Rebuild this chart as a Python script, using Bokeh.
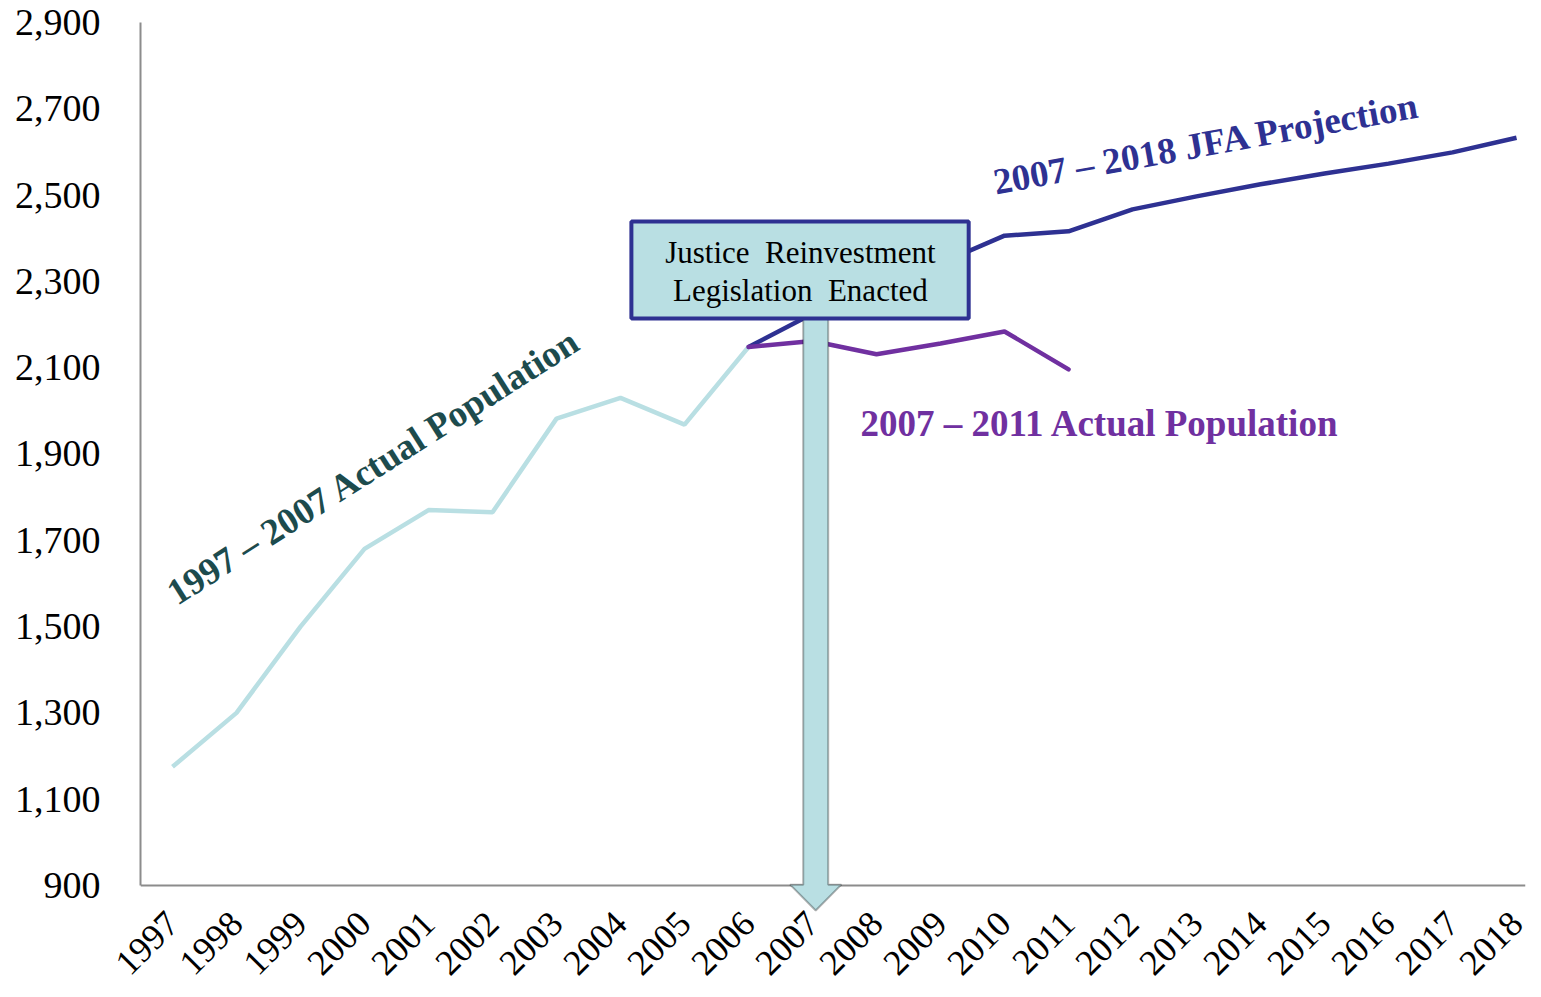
from bokeh.plotting import figure
from bokeh.models import (Range1d, FixedTicker, NumeralTickFormatter, Label,
                          BoxAnnotation, PolyAnnotation)
from bokeh.embed import file_html
from bokeh.resources import INLINE

# ---- data ----
years = list(range(1997, 2019))
actual_years = list(range(1997, 2007))
actual_pop = [1175, 1300, 1500, 1680, 1770, 1765, 1982, 2030, 1968, 2148]
proj_years = list(range(2006, 2019))
proj_pop = [2148, 2225, 2285, 2342, 2406, 2416, 2467, 2497, 2525, 2550, 2573, 2599, 2633]
recent_years = list(range(2006, 2012))
recent_pop = [2148, 2162, 2131, 2156, 2184, 2096]
y_ticks = list(range(900, 3000, 200))

SERIF = "Liberation Serif"
LIGHT = "#b9dfe3"
DARK = "#2e3192"
PURPLE = "#7030a0"
TEAL = "#1d4b4d"
AXIS = "#8c8c8c"

X0, X1 = 1996.5, 2018.14
Y0, Y1 = 837.4, 2900

p = figure(width=1533, height=989, output_backend="svg", toolbar_location=None,
           x_range=Range1d(X0, X1), y_range=Range1d(Y0, Y1),
           min_border_left=140, min_border_right=8, min_border_top=22,
           min_border_bottom=77)
p.outline_line_color = None
p.grid.visible = False

# axes
p.xaxis.ticker = FixedTicker(ticks=years)
p.xaxis.major_label_overrides = {y: str(y) for y in years}
p.xaxis.major_label_orientation = 0.785398
p.yaxis.ticker = FixedTicker(ticks=y_ticks)
p.yaxis.formatter = NumeralTickFormatter(format="0,0")
p.yaxis.bounds = (900, 2900)
for ax in (p.xaxis, p.yaxis):
    ax.major_tick_line_color = None
    ax.minor_tick_line_color = None
    ax.major_tick_out = 0
    ax.major_tick_in = 0
    ax.minor_tick_out = 0
    ax.minor_tick_in = 0
    ax.major_label_text_font = SERIF
    ax.major_label_text_color = "black"
p.yaxis.axis_line_color = AXIS
p.yaxis.axis_line_width = 2
p.xaxis.axis_line_color = None
p.yaxis.major_label_text_font_size = "38px"
p.yaxis.major_label_standoff = 40
p.xaxis.major_label_text_font_size = "36px"
p.xaxis.major_label_standoff = 5

# visible category axis line at 900
p.segment(x0=[X0], y0=[900], x1=[X1], y1=[900], line_color=AXIS, line_width=2)

# lines
p.line(actual_years, actual_pop, line_color=LIGHT, line_width=4.5)
p.line(proj_years, proj_pop, line_color=DARK, line_width=4.5)
p.line(recent_years, recent_pop, line_color=PURPLE, line_width=4.5, line_cap="round")

# arrow and box
cx = 2007.05
p.add_layout(PolyAnnotation(
    xs=[cx - 0.195, cx + 0.195, cx + 0.195, cx + 0.4, cx, cx - 0.4, cx - 0.195],
    ys=[2214, 2214, 902, 902, 842, 902, 902],
    fill_color=LIGHT, fill_alpha=1, line_color="black", line_width=2))
p.add_layout(BoxAnnotation(left=2004.17, right=2009.44, bottom=2214, top=2439,
                           fill_color=LIGHT, fill_alpha=1, line_color=DARK,
                           line_width=4, line_alpha=1))
for txt, yy in (("Justice\u00a0\u00a0Reinvestment", 2367),
                ("Legislation\u00a0\u00a0Enacted", 2279)):
    p.add_layout(Label(x=2006.81, y=yy, text=txt, text_align="center",
                       text_baseline="alphabetic", text_font=SERIF,
                       text_font_size="31px", text_color="black"))

# series labels
p.add_layout(Label(x=1996.97, y=1572, text="1997 \u2013 2007 Actual Population",
                   angle=0.567, text_font=SERIF, text_font_size="37px",
                   text_font_style="bold", text_color=TEAL,
                   text_baseline="alphabetic", text_align="left"))
p.add_layout(Label(x=2009.83, y=2530, text="2007 \u2013 2018 JFA Projection",
                   angle=0.18, text_font=SERIF, text_font_size="37px",
                   text_font_style="bold", text_color=DARK,
                   text_baseline="alphabetic", text_align="left"))
p.add_layout(Label(x=2007.75, y=1971, text="2007 \u2013 2011 Actual Population",
                   text_font=SERIF, text_font_size="37px",
                   text_font_style="bold", text_color=PURPLE,
                   text_baseline="alphabetic", text_align="left"))

open("out.html", "w").write(file_html(p, INLINE))
